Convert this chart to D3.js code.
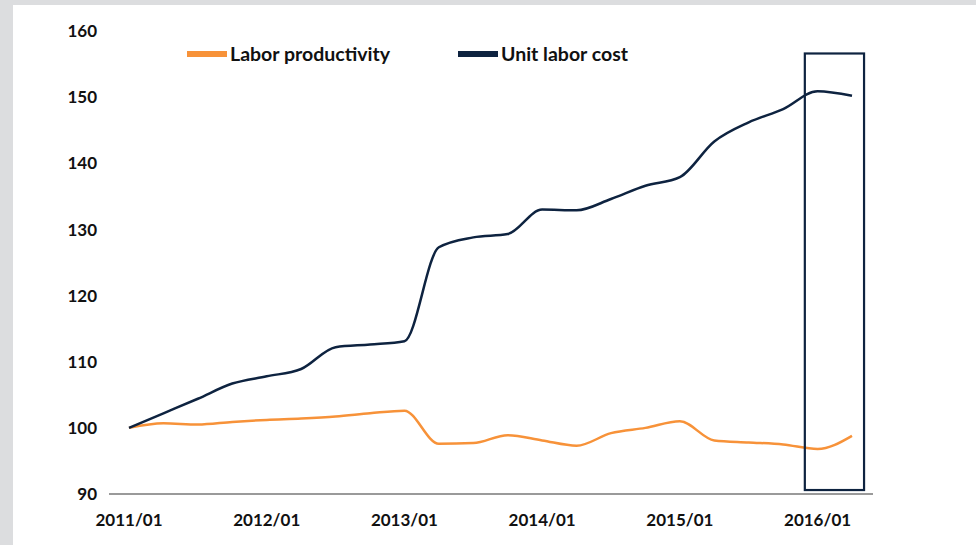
<!DOCTYPE html>
<html>
<head>
<meta charset="utf-8">
<script src="https://cdn.jsdelivr.net/npm/d3@7"></script>
<style>
  html, body { margin: 0; padding: 0; background: #dcdddf; }
  svg { display: block; font-family: Lato, "Open Sans", sans-serif; font-weight: 700; }
</style>
</head>
<body>
<svg id="chart" width="976" height="545"></svg>
<script>
// quarterly, 2011Q1 .. 2016Q2
const quarters = ["2011/01","2011/04","2011/07","2011/10","2012/01","2012/04","2012/07","2012/10",
  "2013/01","2013/04","2013/07","2013/10","2014/01","2014/04","2014/07","2014/10",
  "2015/01","2015/04","2015/07","2015/10","2016/01","2016/04"];
const laborProductivity = [100, 100.7, 100.5, 100.9, 101.2, 101.4, 101.7, 102.2, 102.6, 97.6, 97.7,
  98.9, 98.1, 97.3, 99.2, 100.0, 101.0, 98.1, 97.8, 97.5, 96.8, 98.8];
const unitLaborCost = [100, 102.2, 104.4, 106.7, 107.8, 108.9, 112.2, 112.6, 113.1, 127.3, 128.8,
  129.3, 133.0, 132.9, 134.6, 136.6, 137.9, 143.3, 146.2, 148.2, 150.9, 150.2];
const yTicks = [90, 100, 110, 120, 130, 140, 150, 160];
const xLabels = ["2011/01","2012/01","2013/01","2014/01","2015/01","2016/01"];
const highlight = ["2016/01", "2016/04"];

const series = [
  { name: "Labor productivity", values: laborProductivity, color: "#f79239" },
  { name: "Unit labor cost", values: unitLaborCost, color: "#0e2340" }
];

const svg = d3.select("#chart");
svg.append("rect").attr("x", 13).attr("y", 5).attr("width", 963).attr("height", 540).attr("fill", "#fff");

const x = d3.scalePoint().domain(quarters).range([129, 852]);
const y = d3.scaleLinear().domain([90, 160]).range([494, 31]);

// y labels
svg.append("g").selectAll("text").data(yTicks).join("text")
  .attr("x", 97).attr("y", d => y(d)).attr("dy", "0.36em")
  .attr("text-anchor", "end").attr("font-size", 17).attr("fill", "#111")
  .text(d => d);

// baseline
svg.append("line")
  .attr("x1", 109).attr("x2", 873).attr("y1", y(90)).attr("y2", y(90))
  .attr("stroke", "#9a9a9a").attr("stroke-width", 2);

// x labels
svg.append("g").selectAll("text").data(xLabels).join("text")
  .attr("x", d => x(d)).attr("y", 526)
  .attr("text-anchor", "middle").attr("font-size", 17).attr("fill", "#111")
  .text(d => d);

const line = d3.line()
  .x((d, i) => x(quarters[i]))
  .y(d => y(d))
  .curve(d3.curveMonotoneX);

svg.append("g").selectAll("path").data(series).join("path")
  .attr("d", d => line(d.values))
  .attr("fill", "none")
  .attr("stroke", d => d.color)
  .attr("stroke-width", 2.5);

// highlight box
const step = x.step();
const bx0 = x(highlight[0]) - step * 0.37;
const bx1 = x(highlight[1]) + step * 0.35;
svg.append("rect")
  .attr("x", bx0).attr("y", y(156.6))
  .attr("width", bx1 - bx0).attr("height", y(90.6) - y(156.6))
  .attr("fill", "none").attr("stroke", "#0e2340").attr("stroke-width", 2.2);

// legend
const legendX = [187, 458];
const lg = svg.append("g").selectAll("g").data(series).join("g")
  .attr("transform", (d, i) => `translate(${legendX[i]},54)`);
lg.append("rect").attr("x", 0).attr("y", -3).attr("width", 40).attr("height", 6).attr("fill", d => d.color);
lg.append("text").attr("x", 43).attr("y", 0).attr("dy", "0.36em")
  .attr("font-size", 19.5).attr("fill", "#111").text(d => d.name);
</script>
</body>
</html>
